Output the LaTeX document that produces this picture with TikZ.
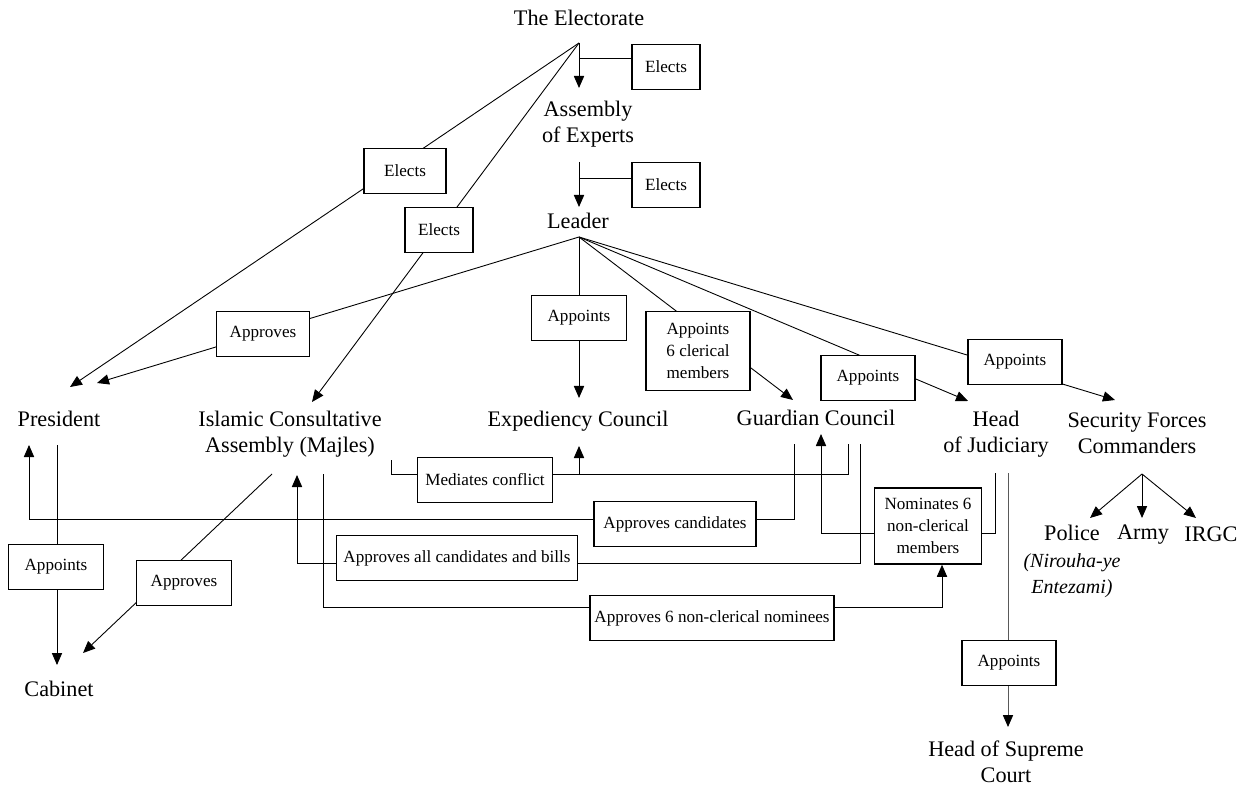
\documentclass[tikz,border=0pt]{standalone}
\usepackage{fontspec}
\setmainfont{Liberation Serif}
\usetikzlibrary{arrows.meta, backgrounds, calc}

\begin{document}
\begin{tikzpicture}[>={Triangle[length=5.4pt,width=4.6pt]}, x=0.45pt, y=-0.45pt,
    line width=0.7pt,
    lbl/.style={align=center, inner sep=0pt, font=\fontsize{10}{11.7}\selectfont},
    note/.style={align=center, inner sep=0pt, font=\fontsize{9}{11.7}\selectfont\itshape},
    box/.style={draw, fill=white, align=center, inner xsep=2pt, inner ysep=2pt,
        minimum height=20.2pt, font=\fontsize{7.7}{10}\selectfont}]
    \useasboundingbox (0,0) rectangle (1246,788);

    % bodies
    \node[lbl] (elec) at (579,18) {The Electorate};
    \node[lbl] (aoe) at (588,124) {Assembly\\of Experts};
    \node[lbl] (leader) at (578,221) {Leader};
    \node[lbl] (pres) at (59,419) {President};
    \node[lbl] (ica) at (290,434) {Islamic Consultative\\Assembly (Majles)};
    \node[lbl] (exp) at (578,421) {Expediency Council};
    \node[lbl] (gc) at (816,418) {Guardian Council};
    \node[lbl] (hoj) at (996,434) {Head\\of Judiciary};
    \node[lbl] (sfc) at (1137,433) {Security Forces\\Commanders};
    \node[lbl] (police) at (1072,533) {Police};
    \node[note] (polnote) at (1072,576) {(Nirouha-ye\\Entezami)};
    \node[lbl] (army) at (1143,535) {Army};
    \node[lbl] (irgc) at (1211,534) {IRGC};
    \node[lbl] (cab) at (59,689) {Cabinet};
    \node[lbl] (hsc) at (1006,762) {Head of Supreme\\Court};

    % powers
    \node[box, minimum width=30.6pt] (bE1) at (666,67) {Elects};
    \node[box, minimum width=30.6pt] (bE2) at (666,185) {Elects};
    \node[box, minimum width=36.9pt] (bE3) at (405,171) {Elects};
    \node[box, minimum width=30.6pt] (bE4) at (439,230) {Elects};
    \node[box, minimum width=41.9pt] (bAp1) at (263,334) {Approves};
    \node[box, minimum width=42.7pt] (bAp2) at (579,318) {Appoints};
    \node[box, minimum width=46.8pt, minimum height=35.6pt] (bAp3) at (698,351)
        {Appoints\\6 clerical\\members};
    \node[box, minimum width=42.3pt] (bAp4) at (868,378) {Appoints};
    \node[box, minimum width=42.3pt] (bAp5) at (1015,362) {Appoints};
    \node[box, minimum width=42.7pt] (bAp6) at (56,567) {Appoints};
    \node[box, minimum width=42.7pt] (bAp7) at (184,583) {Approves};
    \node[box, minimum width=60.7pt] (bMed) at (485,480) {Mediates conflict};
    \node[box, minimum width=72.9pt] (bApC) at (675,524) {Approves candidates};
    \node[box, minimum width=108.5pt] (bApB) at (457,558) {Approves all candidates and bills};
    \node[box, minimum width=108.5pt] (bApN) at (712,618) {Approves 6 non-clerical nominees};
    \node[box, minimum width=48.2pt, minimum height=34.2pt] (bNom) at (928,526)
        {Nominates 6\\non-clerical\\members};
    \node[box, minimum width=42.3pt] (bAp8) at (1009,663) {Appoints};

    \coordinate (ef) at (579,43);
    \coordinate (lf) at (579,237);
    \coordinate (sf) at (1142,474);

    \begin{pgfonlayer}{background}
        % elections
        \draw[->] (ef) -- (579,88);
        \draw (579,58) -- (bE1.west |- 579,58);
        \draw[->] (579,162) -- (579,207);
        \draw (579,178) -- (bE2.west |- 579,178);
        \draw[->] (ef) -- (70,387);
        \draw[->] (ef) -- (312,402);
        % from the leader
        \draw[->] (lf) -- (97,383);
        \draw[->] (lf) -- (579,398);
        \draw[->] (lf) -- (793,400);
        \draw[->] (lf) -- (968,401);
        \draw[->] (lf) -- (1115,400);
        \foreach \x in {1090,1142,1196}
            \draw[->] (sf) -- (\x,518);
        % executive
        \draw[->] (57,445) -- (57,665);
        \draw[->] (272,474) -- (83,653);
        % checks between bodies
        \draw (391,460) |- (848,474) -- (848,444);
        \draw[->] (579,474) -- (579,446);
        \draw[->] (794,444) |- (29,519) -- (29,445);
        \draw[->] (860,444) |- (297,563) -- (297,475);
        \draw[->] (323,474) |- (942,607) -- ($(bNom.south)+(14,0)$);
        \draw[->] (995,473) |- (821,533) -- (821,434);
        \draw[black!65, -{Triangle[length=5.4pt,width=4.6pt,color=black]}]
            (1008,473) -- (1008,727);
    \end{pgfonlayer}
\end{tikzpicture}
\end{document}
